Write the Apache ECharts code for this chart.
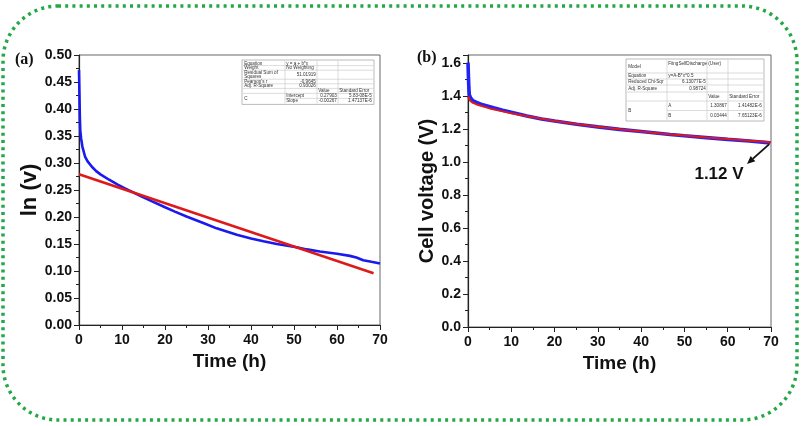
<!DOCTYPE html>
<html><head><meta charset="utf-8">
<script src="https://cdn.jsdelivr.net/npm/echarts@6/dist/echarts.min.js"></script>
<style>html,body{margin:0;padding:0;background:#fff}#c{width:802px;height:426px}</style>
</head><body><div id="c"></div>
<script>
// ---- Data: panel (a) ----
const timeA = [0, 0.1, 0.2, 0.3, 0.5, 0.8, 1.4, 2, 3, 4, 5, 7, 9, 10.7, 12, 14.6, 17, 20, 22.3, 25, 28.9, 32, 36.7, 40, 42.9, 46, 50.6, 53, 56, 60, 63, 64.5, 66.1, 68, 70];
const lnA   = [0.472, 0.43, 0.385, 0.36, 0.345, 0.33, 0.312, 0.303, 0.293, 0.285, 0.279, 0.269, 0.260, 0.253, 0.248, 0.238, 0.229, 0.218, 0.210, 0.201, 0.189, 0.179, 0.167, 0.160, 0.155, 0.150, 0.144, 0.140, 0.136, 0.132, 0.128, 0.125, 0.120, 0.117, 0.114];
const fitTimeA = [0, 68.5];
const fitLnA   = [0.279, 0.096];
// ---- Data: panel (b) ----
const timeB = [0, 0.1, 0.2, 0.3, 0.6, 1, 1.2, 2, 3, 5.9, 8, 10, 13.6, 17, 20, 25.1, 30, 35, 40, 46.7, 50, 55, 60, 65, 69.8];
const voltB = [1.604, 1.52, 1.45, 1.41, 1.39, 1.378, 1.372, 1.362, 1.352, 1.330, 1.315, 1.302, 1.280, 1.262, 1.250, 1.230, 1.214, 1.199, 1.186, 1.168, 1.160, 1.149, 1.138, 1.128, 1.117];
const fitTimeB = [0, 0.5, 1, 2, 3, 5, 8, 10, 15, 20, 25, 30, 35, 40, 45, 50, 55, 60, 65, 70];
const fitVoltB = [1.398, 1.372, 1.362, 1.350, 1.342, 1.326, 1.308, 1.297, 1.272, 1.250, 1.232, 1.215, 1.200, 1.186, 1.173, 1.161, 1.150, 1.140, 1.130, 1.120];
const xTickLabels = ['0','10','20','30','40','50','60','70'];
const annotValue = 1.12;
const annotText = '1.12 V';
// ---- Inset tables ----
const tableARows = [
  ['Equation', 'y = a + b*x', '', ''],
  ['Weight', 'No Weighting', '', ''],
  ['Residual Sum of\nSquares', '51.01919', '', ''],
  ["Pearson's r", '-0.9645', '', ''],
  ['Adj. R-Square', '0.93026', '', ''],
  ['', '', 'Value', 'Standard Error'],
  ['C', 'Intercept', '0.27903', '5.83-08E-5'],
  ['', 'Slope', '-0.00267', '1.47137E-6']
];
const tableBRows = [
  ['Model', 'FitngSelfDischarge (User)', '', ''],
  ['Equation', 'y=A-B*x^0.5', '', ''],
  ['Reduced Chi-Sqr', '6.13077E-5', '', ''],
  ['Adj. R-Square', '0.98724', '', ''],
  ['', '', 'Value', 'Standard Error'],
  ['B', 'A', '1.30867', '1.41482E-6'],
  ['', 'B', '0.03444', '7.65123E-6']
];

const zip = (a, b) => a.map((v, i) => [v, b[i]]);
const chart = echarts.init(document.getElementById('c'));
const FONT = '"Liberation Sans", Arial, sans-serif';
const axisCommon = {
  axisLine: {show: true, lineStyle: {color: '#222', width: 1.2}},
  axisTick: {show: true, inside: false, length: 5, lineStyle: {color: '#222', width: 1}},
  minorTick: {show: true, splitNumber: 2, length: 3, lineStyle: {color: '#222', width: 1}},
  splitLine: {show: false},
  minorSplitLine: {show: false}
};
const labelStyle = {fontSize: 14, fontWeight: 'bold', color: '#111', fontFamily: FONT};
const nameStyle = {fontSize: 19, fontWeight: 'bold', color: '#111', fontFamily: FONT};

function xAxis(gi) {
  return Object.assign({}, axisCommon, {
    type: 'value', gridIndex: gi, min: 0, max: 70, interval: 10,
    axisLabel: Object.assign({margin: 8, formatter: v => xTickLabels[Math.round(v / 10)]}, labelStyle),
    name: 'Time (h)', nameLocation: 'middle', nameGap: 27, nameTextStyle: nameStyle
  });
}

function tableEls(x0, y0, colW, rowH, rows, merges) {
  const els = [];
  const W = colW.reduce((a, b) => a + b, 0), H = rowH.reduce((a, b) => a + b, 0);
  els.push({type: 'rect', shape: {x: x0 - 1, y: y0 - 1, width: W + 2, height: H + 2}, style: {fill: '#fff', stroke: '#aaa', lineWidth: 0.8}});
  const colX = [x0]; colW.forEach(w => colX.push(colX[colX.length - 1] + w));
  const rowY = [y0]; rowH.forEach(h => rowY.push(rowY[rowY.length - 1] + h));
  for (let i = 1; i < colW.length; i++) {
    els.push({type: 'line', shape: {x1: colX[i], y1: y0, x2: colX[i], y2: y0 + H}, style: {stroke: '#c4c4c4', lineWidth: 0.6}});
  }
  for (let r = 1; r < rows.length; r++) {
    const sx = merges.includes(r) ? colX[1] : x0;
    els.push({type: 'line', shape: {x1: sx, y1: rowY[r], x2: x0 + W, y2: rowY[r]}, style: {stroke: '#c4c4c4', lineWidth: 0.6}});
  }
  rows.forEach((row, r) => {
    row.forEach((t, c) => {
      if (!t) return;
      let yc = (rowY[r] + rowY[r + 1]) / 2;
      if (c === 0 && merges.includes(r + 1)) yc = (rowY[r] + rowY[r + 2]) / 2;
      let va = 'middle';
      if (r === 0 && c === 1 && rowH[0] > 10) { yc = rowY[0] + 1.5; va = 'top'; }
      const isNum = /^-?[0-9]/.test(t) && c > 0;
      els.push({type: 'text', style: {
        text: t, x: isNum ? colX[c + 1] - 1.2 : colX[c] + 1.2, y: yc,
        align: isNum ? 'right' : 'left', verticalAlign: va,
        font: '4.6px ' + FONT, fill: '#333', lineHeight: 4.8
      }});
    });
  });
  return els;
}

const graphics = [
  {type: 'rect', shape: {x: 3, y: 6, width: 794, height: 414, r: 55},
   style: {fill: 'none', stroke: '#23a847', lineWidth: 3.5, lineDash: [3, 4.2]}, silent: true, z: 10},
  {type: 'text', style: {text: '(a)', x: 15, y: 60, verticalAlign: 'middle', font: 'bold 16px "Liberation Serif", serif', fill: '#111'}},
  {type: 'text', style: {text: '(b)', x: 417, y: 58, verticalAlign: 'middle', font: 'bold 16px "Liberation Serif", serif', fill: '#111'}}
].concat(
  tableEls(243, 61, [42, 32, 21, 35], [4.6, 4.6, 9, 4.6, 4.6, 5, 5, 5], tableARows, [7]),
  tableEls(627, 60, [40, 40, 21, 35], [13, 6, 6, 7, 9, 9.5, 9.5], tableBRows, [6])
);

chart.setOption({
  animation: false,
  backgroundColor: '#fff',
  grid: [
    {left: 79, right: 422, top: 55, bottom: 101, show: true, borderColor: '#666', borderWidth: 1, backgroundColor: 'transparent'},
    {left: 468, right: 31, top: 55, bottom: 99, show: true, borderColor: '#666', borderWidth: 1, backgroundColor: 'transparent'}
  ],
  xAxis: [xAxis(0), xAxis(1)],
  yAxis: [
    Object.assign({}, axisCommon, {
      type: 'value', gridIndex: 0, min: 0, max: 0.5, interval: 0.05,
      axisLabel: Object.assign({margin: 7, formatter: v => v.toFixed(2)}, labelStyle),
      name: 'ln (v)', nameLocation: 'middle', nameGap: 26, nameTextStyle: Object.assign({}, nameStyle, {fontSize: 22})
    }),
    Object.assign({}, axisCommon, {
      type: 'value', gridIndex: 1, min: 0, max: 1.65, interval: 0.2,
      axisLabel: Object.assign({margin: 7, showMaxLabel: false, formatter: v => v.toFixed(1)}, labelStyle),
      name: 'Cell voltage (V)', nameLocation: 'middle', nameGap: 25, nameTextStyle: Object.assign({}, nameStyle, {fontSize: 20})
    })
  ],
  series: [
    {type: 'line', xAxisIndex: 0, yAxisIndex: 0, data: zip(timeA, lnA), showSymbol: false, lineStyle: {color: '#1a1aee', width: 2.6}, z: 3},
    {type: 'line', xAxisIndex: 0, yAxisIndex: 0, data: zip(fitTimeA, fitLnA), showSymbol: false, lineStyle: {color: '#dd1a1a', width: 2.6}, z: 4},
    {type: 'line', xAxisIndex: 1, yAxisIndex: 1, data: zip(timeB, voltB), showSymbol: false, lineStyle: {color: '#2222f5', width: 3.6}, z: 3},
    {type: 'line', xAxisIndex: 1, yAxisIndex: 1, data: zip(fitTimeB, fitVoltB), showSymbol: false, lineStyle: {color: '#e01818', width: 2}, z: 4}
  ],
  graphic: graphics
});

// annotation arrow for panel (b)
const p = chart.convertToPixel({xAxisIndex: 1, yAxisIndex: 1}, [70, annotValue]);
const tail = [p[0] - 2, p[1] + 2];
const head = [747, 164];
const ang = Math.atan2(head[1] - tail[1], head[0] - tail[0]);
const L = 8, Wd = 3.5;
const bx = head[0] - L * Math.cos(ang), by = head[1] - L * Math.sin(ang);
const nx = -Math.sin(ang) * Wd, ny = Math.cos(ang) * Wd;
chart.setOption({graphic: graphics.concat([
  {type: 'line', shape: {x1: tail[0], y1: tail[1], x2: bx, y2: by}, style: {stroke: '#111', lineWidth: 1.8}, z: 20},
  {type: 'polygon', shape: {points: [head, [bx + nx, by + ny], [bx - nx, by - ny]]}, style: {fill: '#111'}, z: 20},
  {type: 'text', style: {text: annotText, x: 719, y: 174, align: 'center', verticalAlign: 'middle', font: 'bold 17px ' + FONT, fill: '#111'}, z: 20}
])});
</script>
</body></html>
